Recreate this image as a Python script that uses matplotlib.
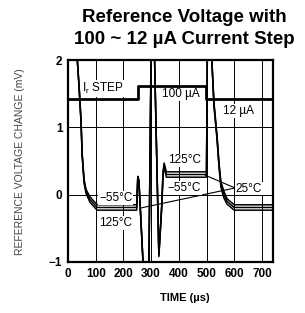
import matplotlib
matplotlib.use("Agg")
import matplotlib.pyplot as plt

# time axis (us) shared by the three temperature traces
t_us = [20, 32, 40, 47, 51, 58, 65, 79, 105, 248, 252, 256, 272, 285, 292,
        300, 306, 312, 328, 338, 343, 347, 355, 500, 503, 510, 518, 527,
        538, 545, 552, 563, 574, 600, 740]

# reference voltage change (mV) for each temperature
v_m55 = [3.0, 2.1, 1.62, 1.11, 0.62, 0.23, 0.08, -0.03, -0.15, -0.15, 0.27,
         0.2, -1.1, -1.5, -1.1, 2.1, 2.5, 2.1, -0.88, -0.22, 0.26, 0.43,
         0.26, 0.26, 2.1, 2.5, 2.1, 1.37, 0.88, 0.48, 0.19, 0.05, -0.06,
         -0.15, -0.15]
v_25 = [3.0, 2.1, 1.6, 1.09, 0.6, 0.2, 0.05, -0.07, -0.19, -0.19, 0.27,
        0.2, -1.1, -1.5, -1.1, 2.1, 2.5, 2.1, -0.9, -0.2, 0.3, 0.45,
        0.3, 0.3, 2.1, 2.5, 2.1, 1.34, 0.85, 0.45, 0.15, 0.0, -0.1,
        -0.19, -0.19]
v_125 = [3.0, 2.1, 1.58, 1.07, 0.58, 0.17, 0.02, -0.11, -0.23, -0.23, 0.27,
         0.2, -1.1, -1.5, -1.1, 2.1, 2.5, 2.1, -0.92, -0.18, 0.34, 0.47,
         0.34, 0.34, 2.1, 2.5, 2.1, 1.31, 0.82, 0.42, 0.11, -0.05, -0.14,
         -0.23, -0.23]

# current step trace (drawn on the same mV scale)
step_t = [0, 252, 252, 497, 497, 740]
step_v = [1.42, 1.42, 1.62, 1.62, 1.42, 1.42]

xticks = [0, 100, 200, 300, 400, 500, 600, 700]
yticks = [-1, 0, 1, 2]

plt.rcParams['font.family'] = ['Liberation Sans', 'DejaVu Sans']

fig = plt.figure(figsize=(3.05, 3.13), dpi=100)
ax = fig.add_axes([0.223, 0.163, 0.672, 0.645])

for x in xticks[1:]:
    ax.axvline(x, color='black', lw=0.7, zorder=1)
for y in [0, 1]:
    ax.axhline(y, color='black', lw=0.7, zorder=1)

for v in (v_m55, v_25, v_125):
    ax.plot(t_us, v, color='black', lw=1.1, zorder=3)
ax.plot(step_t, step_v, color='black', lw=2.0, zorder=3)

# leader lines to the 25C label
ax.plot([495, 603], [0.29, 0.10], color='black', lw=0.8, zorder=2)
ax.plot([260, 603], [-0.2, 0.10], color='black', lw=0.8, zorder=2)

box = dict(facecolor='white', edgecolor='none', pad=0.6)
fs = 8.5
ax.text(126, 1.58, r'I$_\mathregular{r}$ STEP', fontsize=fs, ha='center',
        va='center', bbox=box, zorder=4)
ax.text(408, 1.49, '100 µA', fontsize=fs, ha='center', va='center',
        bbox=box, zorder=4)
ax.text(617, 1.24, '12 µA', fontsize=fs, ha='center', va='center',
        bbox=box, zorder=4)
ax.text(173, -0.05, '\u221255°C', fontsize=fs, ha='center', va='center',
        bbox=box, zorder=4)
ax.text(173, -0.42, '125°C', fontsize=fs, ha='center', va='center',
        bbox=box, zorder=4)
ax.text(422, 0.51, '125°C', fontsize=fs, ha='center', va='center',
        bbox=box, zorder=4)
ax.text(419, 0.10, '\u221255°C', fontsize=fs, ha='center', va='center',
        bbox=box, zorder=4)
ax.text(605, 0.09, '25°C', fontsize=fs, ha='left', va='center',
        bbox=box, zorder=4)

ax.set_xlim(0, 740)
ax.set_ylim(-1, 2)
ax.set_xticks(xticks)
ax.set_yticks(yticks)
ax.set_xticklabels([str(x) for x in xticks], fontweight='bold', fontsize=8.5)
ax.set_yticklabels(['\u22121', '0', '1', '2'], fontweight='bold', fontsize=8.5)
ax.tick_params(length=0, pad=4)
for s in ax.spines.values():
    s.set_linewidth(1.6)

fig.text(184 / 305, 1 - 17 / 313, 'Reference Voltage with',
         fontsize=13.5, fontweight='bold', ha='center', va='center')
fig.text(184 / 305, 1 - 40 / 313, '100 ~ 12 µA Current Step',
         fontsize=13.5, fontweight='bold', ha='center', va='center')
fig.text(20 / 305, 1 - 162 / 313, 'REFERENCE VOLTAGE CHANGE (mV)',
         fontsize=7.5, rotation=90, ha='center', va='center', color='#444444')
fig.text(185 / 305, 1 - 298 / 313, 'TIME (µs)', fontsize=8,
         fontweight='bold', ha='center', va='center')

fig.savefig('out.png', dpi=100)
